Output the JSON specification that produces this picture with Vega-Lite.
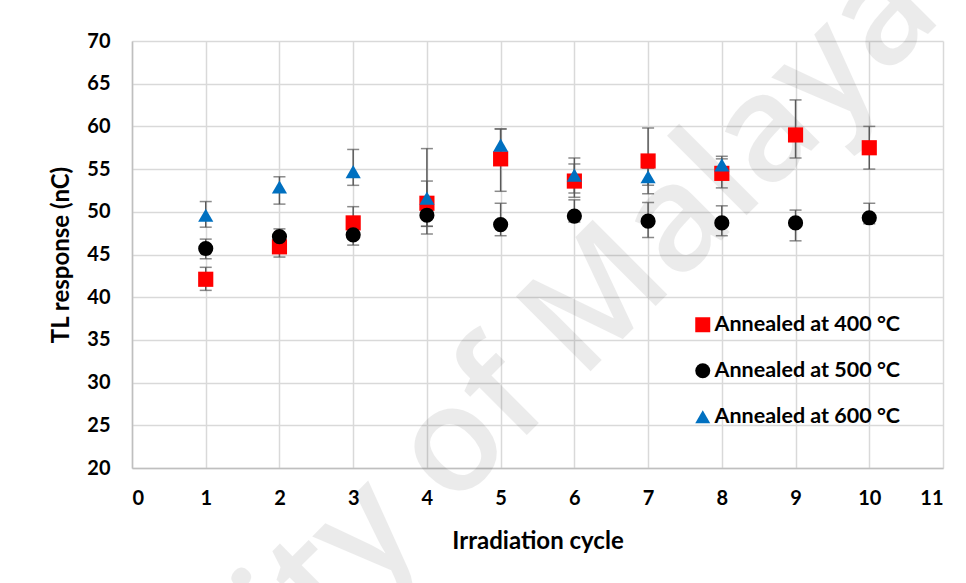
{
  "$schema": "https://vega.github.io/schema/vega-lite/v6.json",
  "width": 811,
  "height": 427,
  "autosize": {"type": "none"},
  "padding": {"left": 132, "top": 41, "right": 23, "bottom": 115},
  "background": "white",
  "config": {
    "view": {"stroke": null},
    "font": "Lato",
    "axis": {
      "labelFont": "Lato", "labelFontWeight": "bold", "labelFontSize": 20, "labelColor": "#000000",
      "titleFont": "Lato", "titleFontWeight": "bold", "titleFontSize": 24, "titleColor": "#000000",
      "gridColor": "#d9d9d9", "gridWidth": 1.5, "ticks": false, "grid": true,
      "domainColor": "#bfbfbf", "domainWidth": 1.5
    },
    "legend": {
      "labelFont": "Lato", "labelFontWeight": "bold", "labelFontSize": 21.5, "labelColor": "#000000", "labelLimit": 400
    }
  },
  "datasets": {
    "wm": [{"label": "University of Malaya", "cx": 3.6, "cy": 16.0}],
    "tl": [
      {"cycle": 1, "series": "Annealed at 400 °C", "tl": 42.1, "lo": 40.8, "hi": 43.5},
      {"cycle": 2, "series": "Annealed at 400 °C", "tl": 45.9, "lo": 44.7, "hi": 47.1},
      {"cycle": 3, "series": "Annealed at 400 °C", "tl": 48.7, "lo": 46.8, "hi": 50.6},
      {"cycle": 4, "series": "Annealed at 400 °C", "tl": 51.0, "lo": 47.4, "hi": 57.4},
      {"cycle": 5, "series": "Annealed at 400 °C", "tl": 56.2, "lo": 52.4, "hi": 59.7},
      {"cycle": 6, "series": "Annealed at 400 °C", "tl": 53.6, "lo": 51.7, "hi": 55.6},
      {"cycle": 7, "series": "Annealed at 400 °C", "tl": 55.95, "lo": 52.1, "hi": 59.8},
      {"cycle": 8, "series": "Annealed at 400 °C", "tl": 54.5, "lo": 52.8, "hi": 56.2},
      {"cycle": 9, "series": "Annealed at 400 °C", "tl": 59.0, "lo": 56.3, "hi": 63.1},
      {"cycle": 10, "series": "Annealed at 400 °C", "tl": 57.5, "lo": 55.0, "hi": 60.0},
      {"cycle": 1, "series": "Annealed at 500 °C", "tl": 45.7, "lo": 44.5, "hi": 46.8},
      {"cycle": 2, "series": "Annealed at 500 °C", "tl": 47.1, "lo": 46.3, "hi": 48.0},
      {"cycle": 3, "series": "Annealed at 500 °C", "tl": 47.3, "lo": 46.1, "hi": 48.5},
      {"cycle": 4, "series": "Annealed at 500 °C", "tl": 49.6, "lo": 48.3, "hi": 50.4},
      {"cycle": 5, "series": "Annealed at 500 °C", "tl": 48.5, "lo": 47.2, "hi": 51.0},
      {"cycle": 6, "series": "Annealed at 500 °C", "tl": 49.5, "lo": 48.8, "hi": 51.4},
      {"cycle": 7, "series": "Annealed at 500 °C", "tl": 48.9, "lo": 47.0, "hi": 51.1},
      {"cycle": 8, "series": "Annealed at 500 °C", "tl": 48.7, "lo": 47.2, "hi": 50.7},
      {"cycle": 9, "series": "Annealed at 500 °C", "tl": 48.7, "lo": 46.6, "hi": 50.2},
      {"cycle": 10, "series": "Annealed at 500 °C", "tl": 49.3, "lo": 48.6, "hi": 51.0},
      {"cycle": 1, "series": "Annealed at 600 °C", "tl": 49.6, "lo": 48.2, "hi": 51.2},
      {"cycle": 2, "series": "Annealed at 600 °C", "tl": 52.9, "lo": 50.9, "hi": 54.1},
      {"cycle": 3, "series": "Annealed at 600 °C", "tl": 54.7, "lo": 53.1, "hi": 57.3},
      {"cycle": 4, "series": "Annealed at 600 °C", "tl": 51.6, "lo": 48.3, "hi": 53.6},
      {"cycle": 5, "series": "Annealed at 600 °C", "tl": 57.8, "lo": 56.2, "hi": 59.7},
      {"cycle": 6, "series": "Annealed at 600 °C", "tl": 54.3, "lo": 52.2, "hi": 56.3},
      {"cycle": 7, "series": "Annealed at 600 °C", "tl": 54.1, "lo": 53.1, "hi": 55.1},
      {"cycle": 8, "series": "Annealed at 600 °C", "tl": 55.5, "lo": 54.5, "hi": 56.5}
    ]
  },
  "data": {"name": "tl"},
  "layer": [
    {
      "data": {"name": "wm"},
      "mark": {"type": "text", "font": "Open Sans", "fontSize": 148, "fontWeight": 600, "angle": 315, "color": "#000000", "opacity": 0.075, "align": "center", "baseline": "middle"},
      "encoding": {
        "x": {"field": "cx", "type": "quantitative", "scale": {"domain": [0, 11], "nice": false, "zero": false},
          "axis": {"values": [0,1,2,3,4,5,6,7,8,9,10,11], "format": "d", "title": "Irradiation cycle", "labelPadding": 20, "titlePadding": 21, "grid": true}},
        "y": {"field": "cy", "type": "quantitative", "scale": {"domain": [20, 70], "nice": false, "zero": false},
          "axis": {"values": [20,25,30,35,40,45,50,55,60,65,70], "format": "d", "title": "TL response (nC)", "labelPadding": 22, "titlePadding": 13, "grid": true}},
        "text": {"field": "label", "type": "nominal"}
      }
    },
    {
      "mark": {"type": "rule", "color": "#595959", "strokeWidth": 1.5},
      "encoding": {
        "x": {"field": "cycle", "type": "quantitative"},
        "y": {"field": "lo", "type": "quantitative"},
        "y2": {"field": "hi"}
      }
    },
    {
      "mark": {"type": "tick", "orient": "horizontal", "color": "#595959", "size": 12, "thickness": 1.5},
      "encoding": {"x": {"field": "cycle", "type": "quantitative"}, "y": {"field": "lo", "type": "quantitative"}}
    },
    {
      "mark": {"type": "tick", "orient": "horizontal", "color": "#595959", "size": 12, "thickness": 1.5},
      "encoding": {"x": {"field": "cycle", "type": "quantitative"}, "y": {"field": "hi", "type": "quantitative"}}
    },
    {
      "mark": {"type": "point", "filled": true, "opacity": 1, "size": 230},
      "encoding": {
        "x": {"field": "cycle", "type": "quantitative"},
        "y": {"field": "tl", "type": "quantitative"},
        "color": {
          "field": "series", "type": "nominal",
          "scale": {"domain": ["Annealed at 400 °C", "Annealed at 500 °C", "Annealed at 600 °C"], "range": ["#ff0000", "#000000", "#0070c0"]},
          "legend": {"title": null, "orient": "none", "legendX": 560, "legendY": 273, "symbolSize": 225, "rowPadding": 23, "symbolOpacity": 1, "labelOffset": 1}
        },
        "shape": {
          "field": "series", "type": "nominal",
          "scale": {"domain": ["Annealed at 400 °C", "Annealed at 500 °C", "Annealed at 600 °C"], "range": ["square", "circle", "triangle-up"]}
        }
      }
    }
  ]
}
